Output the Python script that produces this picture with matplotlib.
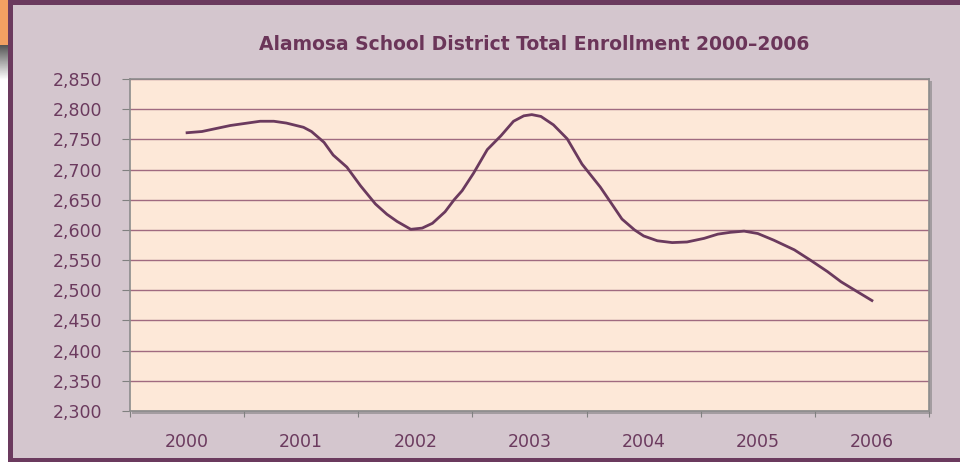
import matplotlib
matplotlib.use("Agg")
import matplotlib.pyplot as plt
import numpy as np
from matplotlib.patches import Rectangle

# Data (x in years since 2000, y = enrollment)
years = [0.00, 0.13, 0.38, 0.64, 0.76, 0.87, 1.02, 1.09, 1.20, 1.28, 1.40, 1.52,
         1.65, 1.75, 1.84, 1.96, 2.06, 2.15, 2.26, 2.34, 2.41, 2.51, 2.63, 2.75,
         2.86, 2.95, 3.02, 3.10, 3.21, 3.33, 3.46, 3.62, 3.71, 3.81, 3.92, 4.00,
         4.12, 4.25, 4.38, 4.53, 4.65, 4.76, 4.88, 5.00, 5.14, 5.32, 5.46, 5.61,
         5.73, 5.86, 6.00]
enrollment = [2761, 2763, 2773, 2780, 2780, 2777, 2770, 2763, 2745, 2724, 2704, 2673,
              2643, 2626, 2614, 2601, 2603, 2611, 2630, 2650, 2665, 2694, 2733, 2756,
              2780, 2789, 2791, 2788, 2774, 2751, 2709, 2671, 2646, 2618, 2600, 2590,
              2582, 2579, 2580, 2586, 2593, 2596, 2598, 2594, 2583, 2567, 2550, 2531,
              2514, 2499, 2483]
year_labels = ["2000", "2001", "2002", "2003", "2004", "2005", "2006"]
y_ticks = list(range(2300, 2851, 50))
title = "Alamosa School District Total Enrollment 2000\u20132006"

W, H = 960, 462
purple = "#6b3a5e"
fig = plt.figure(figsize=(W / 100, H / 100), dpi=100)
fig.patch.set_facecolor("#d4c6ce")

def px(x0, y0, x1, y1):
    # pixel box (top-left origin) -> figure fraction rect
    return (x0 / W, 1 - y1 / H, (x1 - x0) / W, (y1 - y0) / H)

def frect(x0, y0, x1, y1, color, z=-5):
    l, b, w, h = px(x0, y0, x1, y1)
    fig.patches.append(Rectangle((l, b), w, h, transform=fig.transFigure,
                                 facecolor=color, edgecolor="none", zorder=z))

frect(0, 0, 8, H, "#ffffff", -6)
frect(0, 0, 8, 45, "#f2a062")
grad_ax = fig.add_axes(px(0, 45, 8, 80))
grad_ax.set_zorder(-4)
grad = np.linspace(0, 1, 50).reshape(-1, 1)
grad_ax.imshow(grad, cmap="gray", vmin=-0.5, vmax=1.0, aspect="auto")
grad_ax.axis("off")
frect(8, 0, W, 5, purple)
frect(8, 0, 13, H, purple)
frect(8, 458, W, H, purple)

# plot shadow
frect(132, 81, 932, 414, "#a39ca0")

ax = fig.add_axes(px(130, 79, 929, 411))
ax.set_zorder(2)
ax.set_facecolor("#fde8d8")
ax.plot(years, enrollment, color=purple, lw=2, solid_joinstyle="round", zorder=3)

ax.set_xlim(-0.5, 6.5)
ax.set_ylim(2300, 2850)
ax.set_yticks(y_ticks)
ax.set_yticklabels([f"{v:,}" for v in y_ticks])
ax.set_xticks(np.arange(-0.5, 6.6, 1.0))
ax.set_xticklabels([])
ax.set_xticks(range(len(year_labels)), minor=True)
ax.set_xticklabels(year_labels, minor=True)
ax.tick_params(axis="x", which="major", direction="out", length=4, color="#808080")
ax.tick_params(axis="x", which="minor", length=0, pad=16, labelsize=12.5, labelcolor=purple)
ax.tick_params(axis="y", direction="out", length=6, color="#808080", pad=14,
               labelsize=12.5, labelcolor=purple)
ax.grid(axis="y", color="#a06a80", lw=1)
ax.set_axisbelow(True)
for s in ax.spines.values():
    s.set_color("#8c8c8c")
    s.set_linewidth(1.2)

fig.text(534 / W, 1 - 45 / H, title, ha="center", va="center",
         fontsize=13.5, fontweight="bold", color="#6b3559")

fig.savefig("out.png", dpi=100, facecolor=fig.get_facecolor())
